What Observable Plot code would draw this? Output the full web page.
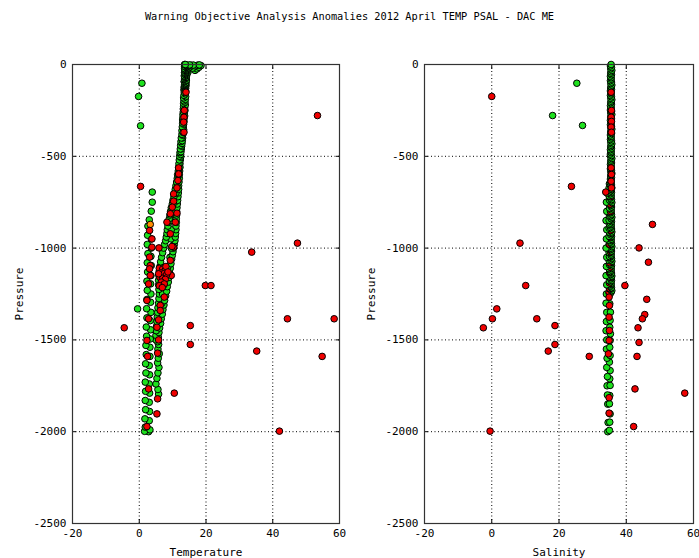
<!DOCTYPE html>
<html>
<head>
<meta charset="utf-8">
<script src="https://cdn.jsdelivr.net/npm/d3@7"></script>
<script src="https://cdn.jsdelivr.net/npm/@observablehq/plot@0.6"></script>
<style>
  html, body { margin: 0; padding: 0; background: white; }
  #chart { width: 699px; height: 558px; background: white; font-family: "DejaVu Sans Mono", monospace; color: black; }
  #title { height: 30px; line-height: 33px; text-align: center; font-size: 10.3px; white-space: pre; }
  #row { display: flex; flex-direction: row; }
  #row svg { display: block; }
</style>
</head>
<body>
<div id="chart">
  <div id="title">Warning Objective Analysis Anomalies 2012 April TEMP PSAL - DAC ME</div>
  <div id="row"></div>
</div>
<script>
// ---- axis ticks ----
const xTicks = [-20, 0, 20, 40, 60];
const yTicks = [0, -500, -1000, -1500, -2000, -2500];
const xGrid = [0, 20, 40];
const yGrid = [-500, -1000, -1500, -2000];

// ---- Temperature panel: [temperature, pressure] ----
const tempGreen = [
  // surface cluster
  [13.6,0],[14.1,-3],[14.6,-6],[15.1,-2],[15.6,-5],[16.2,-3],[16.8,-8],[17.4,-4],[18.0,-2],[18.5,-6],
  [17.9,-15],[17.3,-24],[16.7,-32],[16.0,-20],[15.3,-12],[14.8,-18],[13.9,-10],[14.4,-28],[13.8,-36],[14.6,-42],
  // dense upper layers
  [13.8,0],[14.2,-5],[13.6,-10],[14.0,-15],[14.4,-20],[13.7,-25],[14.1,-30],[13.9,-35],[14.3,-40],[13.6,-45],
  [14.0,-50],[13.8,-55],[14.2,-60],[13.7,-65],[14.0,-70],[13.9,-75],[13.6,-80],[14.1,-85],[13.8,-90],[13.5,-95],
  [14.0,-100],[13.7,-105],[13.9,-110],[13.6,-115],[13.8,-120],[13.5,-125],[13.7,-130],[13.6,-135],[13.8,-140],
  // warm profile 1
  [14.2,-5],[14.3,-15],[14.1,-25],[14.2,-35],[14.0,-45],[14.1,-55],[14.0,-70],[14.1,-85],[13.9,-100],[14.0,-115],
  [13.9,-130],[13.9,-145],[13.8,-160],[13.9,-175],[13.8,-190],[13.7,-205],[13.8,-220],[13.6,-235],[13.7,-250],[13.5,-265],
  [13.6,-280],[13.4,-295],[13.4,-310],[13.3,-325],[13.2,-340],[13.3,-355],[13.1,-370],[13.0,-385],[13.0,-400],[12.9,-415],
  [12.8,-430],[12.7,-445],[12.6,-460],[12.5,-475],[12.4,-490],[12.4,-505],[12.3,-520],[12.2,-540],[12.2,-560],[12.1,-580],
  [12.0,-600],[12.0,-620],[11.9,-640],[11.8,-660],[11.8,-680],[11.7,-700],[11.6,-720],[11.5,-740],[11.4,-760],[11.3,-780],
  [11.2,-800],[11.2,-820],[11.1,-840],[11.1,-860],[11.0,-880],[11.0,-900],[10.9,-920],[10.8,-940],[10.7,-960],[10.5,-980],
  [10.3,-1000],[10.1,-1020],[9.9,-1040],[9.7,-1060],[9.5,-1085],[9.3,-1110],[9.1,-1135],[8.9,-1160],[8.7,-1185],[8.4,-1210],
  [8.2,-1235],[7.9,-1260],[7.6,-1285],[7.4,-1310],[7.1,-1335],[6.9,-1360],[6.6,-1385],[6.4,-1410],[6.1,-1435],[5.9,-1460],
  [5.7,-1485],[5.5,-1510],[5.8,-1525],[5.6,-1550],[6.0,-1575],[5.7,-1600],[5.5,-1625],[5.9,-1650],[5.6,-1680],[5.3,-1710],
  [5.0,-1740],[5.6,-1770],[5.8,-1795],
  // warm profile 1b (upper layers)
  [13.6,-2],[13.7,-12],[13.6,-22],[13.7,-32],[13.6,-42],[13.6,-52],[13.5,-62],[13.6,-78],[13.5,-92],[13.6,-108],
  [13.5,-122],[13.4,-138],[13.5,-152],[13.4,-168],[13.3,-182],[13.4,-198],[13.3,-212],[13.3,-228],[13.2,-242],[13.2,-258],
  [13.1,-272],[13.1,-288],[13.0,-302],
  // warm profile 2
  [13.1,-300],[13.0,-320],[12.9,-340],[12.8,-360],[12.8,-380],[12.6,-400],[12.5,-420],[12.4,-440],[12.3,-460],[12.2,-480],
  [12.1,-500],[12.0,-520],[11.9,-540],[11.8,-560],[11.7,-580],[11.5,-600],[11.4,-620],[11.2,-640],[11.0,-660],[10.8,-680],
  [10.6,-700],[10.4,-720],[10.1,-740],[9.9,-760],[9.6,-780],[9.4,-800],[9.2,-820],[9.0,-840],[8.8,-860],[8.6,-880],
  [8.4,-900],[8.3,-920],[8.1,-940],[7.9,-960],[7.6,-980],[7.3,-1000],[7.0,-1025],[6.7,-1050],[6.4,-1075],[6.2,-1100],
  [6.0,-1125],[5.9,-1150],[5.8,-1175],[5.8,-1200],[5.9,-1225],[6.0,-1250],[5.9,-1275],[5.8,-1300],[5.6,-1325],[5.5,-1350],
  [5.4,-1375],[5.3,-1400],[5.2,-1425],[5.1,-1450],[5.0,-1475],[5.0,-1500],
  // warm profile 3
  [11.8,-600],[11.5,-650],[11.0,-700],[10.6,-750],[10.2,-800],[9.8,-850],[9.6,-900],[9.5,-950],[9.6,-1000],[9.2,-1050],
  [8.6,-1100],[8.0,-1150],[7.4,-1200],[7.0,-1250],[6.8,-1300],
  // cold column a
  [3.9,-695],[3.9,-750],[3.6,-799],[3.0,-846],[3.6,-950],[3.6,-1000],[3.5,-1045],[3.6,-1095],[3.5,-1150],[3.4,-1195],
  [3.5,-1250],[3.4,-1295],[3.5,-1350],[3.3,-1395],[3.4,-1445],[3.3,-1495],[3.2,-1540],[3.2,-1590],[3.0,-1640],[3.1,-1690],
  [3.0,-1740],[3.1,-1790],[3.0,-1840],[3.1,-1890],[3.0,-1940],[3.2,-1990],
  // cold column b
  [2.6,-880],[2.5,-930],[2.4,-980],[2.6,-1030],[2.4,-1080],[2.5,-1130],[2.3,-1180],[2.4,-1230],[2.3,-1280],[2.2,-1330],
  [2.3,-1380],[2.1,-1430],[2.2,-1480],[2.0,-1530],[2.1,-1580],[1.9,-1630],[2.0,-1680],[1.8,-1730],[1.9,-1780],[1.8,-1830],
  [1.9,-1880],[1.7,-1930],[1.8,-1975],[1.6,-1998],[2.8,-2000],
  // isolated
  [0.8,-102],[-0.2,-174],[0.4,-334],[-0.5,-1331]
];
const tempRed = [
  [14.0,-151],[13.5,-250],[13.4,-287],[13.3,-314],[13.4,-369],[11.8,-563],[11.8,-596],[11.6,-632],[11.3,-672],[10.3,-705],
  [10.3,-745],[9.9,-777],[9.3,-813],[11.3,-810],[8.3,-859],[10.8,-859],[9.3,-922],[10.3,-995],[9.8,-991],[5.9,-999],
  [3.8,-995],[3.1,-904],[3.8,-950],[3.1,-1049],[3.3,-1095],[3.1,-1113],[3.3,-1149],[2.8,-1195],[9.3,-1067],[9.6,-1149],
  [6.0,-1110],[7.0,-1115],[7.8,-1120],[6.5,-1135],[7.3,-1140],[8.2,-1145],[6.2,-1160],[7.0,-1165],[7.8,-1170],[6.6,-1185],
  [7.5,-1195],[6.0,-1205],[6.9,-1215],[8.0,-1100],[8.6,-1130],[5.8,-1140],
  [2.3,-1285],[7.5,-1267],[6.3,-1312],[6.3,-1340],[2.8,-1385],[5.8,-1391],[5.3,-1431],[2.3,-1503],[5.8,-1500],[5.5,-1572],
  [2.5,-1590],[2.8,-1767],[5.5,-1821],[5.3,-1903],[2.3,-1972],[0.4,-664],
  [53.4,-278],[47.4,-973],[33.7,-1022],[19.8,-1204],[21.5,-1204],[-4.5,-1434],[15.3,-1422],[15.3,-1525],[44.4,-1385],[58.4,-1385],
  [35.2,-1561],[54.8,-1590],[10.5,-1790],[42.0,-1997]
];
const tempOrange = [[3.3,-871]];

// ---- Salinity panel: [salinity, pressure] ----
const psalGreen = [
  // main column (dense upper 1240 dbar)
  [35.5,0],[35.3,-8],[35.6,-16],[35.4,-24],[35.7,-32],[35.5,-40],[35.4,-48],[35.6,-56],[35.3,-64],[35.5,-72],
  [35.5,-80],[35.3,-88],[35.6,-96],[35.4,-104],[35.7,-112],[35.5,-120],[35.4,-128],[35.6,-136],[35.3,-144],[35.5,-152],
  [35.5,-160],[35.3,-168],[35.6,-176],[35.4,-184],[35.7,-192],[35.5,-200],[35.4,-208],[35.6,-216],[35.3,-224],[35.5,-232],
  [35.5,-240],[35.3,-248],[35.6,-256],[35.4,-264],[35.7,-272],[35.5,-280],[35.4,-288],[35.6,-296],[35.3,-304],[35.5,-312],
  [35.5,-320],[35.3,-328],[35.6,-336],[35.4,-344],[35.7,-352],[35.5,-360],[35.4,-368],[35.6,-376],[35.3,-384],[35.5,-392],
  [35.5,-400],[35.3,-408],[35.6,-416],[35.4,-424],[35.7,-432],[35.5,-440],[35.4,-448],[35.6,-456],[35.3,-464],[35.5,-472],
  [35.5,-480],[35.3,-488],[35.6,-496],[35.4,-504],[35.7,-512],[35.5,-520],[35.4,-528],[35.6,-536],[35.3,-544],[35.5,-552],
  [35.5,-560],[35.3,-568],[35.6,-576],[35.4,-584],[35.7,-592],[35.5,-600],[35.4,-608],[35.6,-616],[35.3,-624],[35.5,-632],
  [35.5,-640],[35.3,-648],[35.6,-656],[35.4,-664],[35.7,-672],[35.5,-680],[35.4,-688],[35.6,-696],[35.3,-704],[35.5,-712],
  [35.5,-720],[35.3,-728],[35.6,-736],[35.4,-744],[35.7,-752],[35.5,-760],[35.4,-768],[35.6,-776],[35.3,-784],[35.5,-792],
  [35.5,-800],[35.3,-808],[35.6,-816],[35.4,-824],[35.7,-832],[35.5,-840],[35.4,-848],[35.6,-856],[35.3,-864],[35.5,-872],
  [35.5,-880],[35.3,-888],[35.6,-896],[35.4,-904],[35.7,-912],[35.5,-920],[35.4,-928],[35.6,-936],[35.3,-944],[35.5,-952],
  [35.5,-960],[35.3,-968],[35.6,-976],[35.4,-984],[35.7,-992],[35.5,-1000],[35.4,-1008],[35.6,-1016],[35.3,-1024],[35.5,-1032],
  [35.5,-1040],[35.3,-1048],[35.6,-1056],[35.4,-1064],[35.7,-1072],[35.5,-1080],[35.4,-1088],[35.6,-1096],[35.3,-1104],[35.5,-1112],
  [35.5,-1120],[35.3,-1128],[35.6,-1136],[35.4,-1144],[35.7,-1152],[35.5,-1160],[35.4,-1168],[35.6,-1176],[35.3,-1184],[35.5,-1192],
  [35.5,-1200],[35.3,-1208],[35.6,-1216],[35.4,-1224],[35.7,-1232],[35.5,-1240],
  // second column
  [35.0,-650],[34.9,-672],[35.0,-694],[34.9,-716],[35.0,-738],[34.9,-760],[35.0,-782],[34.9,-804],[35.0,-826],[34.9,-848],
  [35.0,-870],[34.9,-892],[35.0,-914],[34.9,-936],[35.0,-958],[34.9,-980],[35.0,-1002],[34.9,-1024],[35.0,-1046],[34.9,-1068],
  [35.0,-1090],[34.9,-1112],[35.0,-1134],[34.9,-1156],[35.0,-1178],[34.9,-1200],[35.0,-1222],[34.9,-1244],
  // lower column
  [35.2,-1249],[35.1,-1303],[35.3,-1349],[35.2,-1394],[35.1,-1431],[35.3,-1467],[35.2,-1503],[35.1,-1540],[35.2,-1585],[35.0,-1621],
  [35.2,-1667],[35.1,-1712],[35.2,-1748],[35.1,-1803],[35.0,-1848],[35.2,-1903],[35.1,-1948],[35.0,-1993],
  // fresher column
  [34.3,-700],[34.1,-750],[34.2,-800],[34.0,-850],[34.2,-900],[34.1,-950],[34.0,-1000],[34.2,-1050],[34.1,-1100],[34.0,-1150],
  [34.2,-1200],[34.1,-1250],[34.0,-1300],[34.2,-1350],[34.1,-1400],[34.0,-1450],[34.2,-1500],[34.1,-1550],[34.3,-1600],[34.2,-1650],
  [34.4,-1700],[34.3,-1750],[34.4,-1800],[34.5,-1850],[34.6,-1950],[34.5,-2000],
  // isolated
  [25.3,-102],[18.1,-278],[27.0,-332]
];
const psalRed = [
  [35.5,-151],[35.6,-250],[35.5,-287],[35.6,-310],[35.5,-341],[35.6,-369],[35.5,-563],[35.6,-599],[35.5,-636],[35.6,-672],
  [33.9,-695],[35.3,-720],[35.2,-760],[35.3,-800],[35.2,-850],[35.3,-904],[35.2,-940],[35.1,-980],[35.3,-1020],[35.2,-1049],
  [35.1,-1080],[35.2,-1104],[35.1,-1130],[35.2,-1158],[35.0,-1190],[35.1,-1220],[34.9,-1240],[34.9,-1267],[35.0,-1313],[34.9,-1376],
  [35.0,-1449],[34.9,-1503],[34.7,-1576],[34.9,-1815],[34.9,-1899],
  [0.0,-174],[23.7,-664],[8.4,-973],[10.1,-1204],[47.8,-871],[43.8,-999],[46.6,-1077],[39.6,-1204],[46.1,-1279],[45.5,-1362],
  [44.8,-1385],[43.5,-1434],[43.8,-1514],[43.2,-1590],[42.6,-1767],[57.4,-1790],[42.2,-1972],[-0.5,-1997],[1.5,-1331],[0.2,-1385],
  [-2.5,-1434],[13.4,-1385],[18.8,-1422],[18.8,-1525],[16.8,-1561],[29.0,-1590]
];

const GREEN = "#1ee11e", RED = "#f00000", ORANGE = "#ff8c00";

// tag each point with its flag colour; draw order follows pressure (deepest first)
function tagged(list, color) { return list.map(d => ({v: d[0], p: d[1], c: color})); }
function byDepth(a, b) { return a.p - b.p; }

function panel({green, red, orange, xLabel, width, ml, mr, mixedRange}) {
  const dotOpts = {x: "v", y: "p", r: 3.3, fill: "c", stroke: "black", strokeWidth: 1};
  const g = tagged(green, GREEN);
  const o = orange ? tagged(orange, ORANGE) : [];
  const rd = tagged(red, RED);
  // red flags falling in a densely sampled layer are drawn interleaved with the green ones
  const inMixed = d => mixedRange && d.p <= mixedRange[0] && d.p >= mixedRange[1];
  const under = g.concat(rd.filter(inMixed)).sort(byDepth);
  const over = rd.filter(d => !inMixed(d));
  const marks = [
    Plot.gridX(xGrid, {stroke: "black", strokeOpacity: 1, strokeDasharray: "1,2.5"}),
    Plot.gridY(yGrid, {stroke: "black", strokeOpacity: 1, strokeDasharray: "1,2.5"}),
    Plot.axisX(xTicks, {anchor: "bottom", tickSize: -4, tickPadding: 10, tickFormat: d => String(d),
      label: xLabel, labelAnchor: "center", labelArrow: "none", labelOffset: 32}),
    Plot.axisX(xTicks, {anchor: "top", tickSize: -4, tickFormat: () => "", label: null}),
    Plot.axisY(yTicks, {anchor: "left", tickSize: -4, tickPadding: 10, tickFormat: d => String(d),
      label: "Pressure", labelAnchor: "center", labelArrow: "none", labelOffset: 57}),
    Plot.axisY(yTicks, {anchor: "right", tickSize: -4, tickFormat: () => "", label: null}),
    Plot.dot(under, dotOpts),
    Plot.dot(o, dotOpts),
    Plot.dot(over, dotOpts),
    Plot.frame({stroke: "#333", strokeWidth: 1.2})
  ];
  return Plot.plot({
    width, height: 528,
    marginLeft: ml, marginRight: mr, marginTop: 34, marginBottom: 35,
    style: {fontFamily: "DejaVu Sans Mono, monospace", fontSize: "11px", color: "black", background: "white", overflow: "visible"},
    x: {domain: [-20, 60]},
    y: {domain: [-2500, 0]},
    color: {type: "identity"},
    marks
  });
}

const row = document.getElementById("row");
row.appendChild(panel({green: tempGreen, red: tempRed, orange: tempOrange, xLabel: "Temperature", width: 350, ml: 72, mr: 11, mixedRange: null}));
row.appendChild(panel({green: psalGreen, red: psalRed, orange: null, xLabel: "Salinity", width: 349, ml: 74, mr: 6, mixedRange: [-700, -1250]}));
</script>
</body>
</html>
